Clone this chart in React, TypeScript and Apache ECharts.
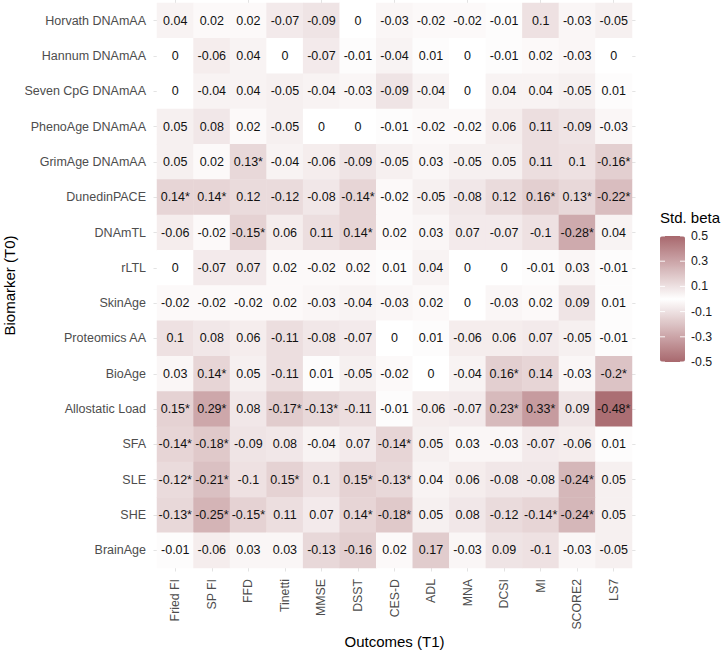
import React, { useEffect, useRef } from "react";
import * as echarts from "echarts";

const outcomes = ["Fried FI", "SP FI", "FFD", "Tinetti", "MMSE", "DSST", "CES-D", "ADL", "MNA", "DCSI", "MI", "SCORE2", "LS7"];
const biomarkers = [
  "Horvath DNAmAA", "Hannum DNAmAA", "Seven CpG DNAmAA", "PhenoAge DNAmAA", "GrimAge DNAmAA",
  "DunedinPACE", "DNAmTL", "rLTL", "SkinAge", "Proteomics AA", "BioAge", "Allostatic Load",
  "SFA", "SLE", "SHE", "BrainAge",
];

// Std. beta per biomarker (row); columns follow `outcomes`
const betaHorvath = [0.04, 0.02, 0.02, -0.07, -0.09, 0, -0.03, -0.02, -0.02, -0.01, 0.1, -0.03, -0.05];
const betaHannum = [0, -0.06, 0.04, 0, -0.07, -0.01, -0.04, 0.01, 0, -0.01, 0.02, -0.03, 0];
const betaSevenCpG = [0, -0.04, 0.04, -0.05, -0.04, -0.03, -0.09, -0.04, 0, 0.04, 0.04, -0.05, 0.01];
const betaPhenoAge = [0.05, 0.08, 0.02, -0.05, 0, 0, -0.01, -0.02, -0.02, 0.06, 0.11, -0.09, -0.03];
const betaGrimAge = [0.05, 0.02, 0.13, -0.04, -0.06, -0.09, -0.05, 0.03, -0.05, 0.05, 0.11, 0.1, -0.16];
const betaDunedin = [0.14, 0.14, 0.12, -0.12, -0.08, -0.14, -0.02, -0.05, -0.08, 0.12, 0.16, 0.13, -0.22];
const betaDNAmTL = [-0.06, -0.02, -0.15, 0.06, 0.11, 0.14, 0.02, 0.03, 0.07, -0.07, -0.1, -0.28, 0.04];
const betaRLTL = [0, -0.07, 0.07, 0.02, -0.02, 0.02, 0.01, 0.04, 0, 0, -0.01, 0.03, -0.01];
const betaSkinAge = [-0.02, -0.02, -0.02, 0.02, -0.03, -0.04, -0.03, 0.02, 0, -0.03, 0.02, 0.09, 0.01];
const betaProteomics = [0.1, 0.08, 0.06, -0.11, -0.08, -0.07, 0, 0.01, -0.06, 0.06, 0.07, -0.05, -0.01];
const betaBioAge = [0.03, 0.14, 0.05, -0.11, 0.01, -0.05, -0.02, 0, -0.04, 0.16, 0.14, -0.03, -0.2];
const betaAllostatic = [0.15, 0.29, 0.08, -0.17, -0.13, -0.11, -0.01, -0.06, -0.07, 0.23, 0.33, 0.09, -0.48];
const betaSFA = [-0.14, -0.18, -0.09, 0.08, -0.04, 0.07, -0.14, 0.05, 0.03, -0.03, -0.07, -0.06, 0.01];
const betaSLE = [-0.12, -0.21, -0.1, 0.15, 0.1, 0.15, -0.13, 0.04, 0.06, -0.08, -0.08, -0.24, 0.05];
const betaSHE = [-0.13, -0.25, -0.15, 0.11, 0.07, 0.14, -0.18, 0.05, 0.08, -0.12, -0.14, -0.24, 0.05];
const betaBrainAge = [-0.01, -0.06, 0.03, 0.03, -0.13, -0.16, 0.02, 0.17, -0.03, 0.09, -0.1, -0.03, -0.05];

// Significance flags (1 = marked with *)
const sigHorvath = [0, 0, 0, 0, 0, 0, 0, 0, 0, 0, 0, 0, 0];
const sigHannum = [0, 0, 0, 0, 0, 0, 0, 0, 0, 0, 0, 0, 0];
const sigSevenCpG = [0, 0, 0, 0, 0, 0, 0, 0, 0, 0, 0, 0, 0];
const sigPhenoAge = [0, 0, 0, 0, 0, 0, 0, 0, 0, 0, 0, 0, 0];
const sigGrimAge = [0, 0, 1, 0, 0, 0, 0, 0, 0, 0, 0, 0, 1];
const sigDunedin = [1, 1, 0, 0, 0, 1, 0, 0, 0, 0, 1, 1, 1];
const sigDNAmTL = [0, 0, 1, 0, 0, 1, 0, 0, 0, 0, 0, 1, 0];
const sigRLTL = [0, 0, 0, 0, 0, 0, 0, 0, 0, 0, 0, 0, 0];
const sigSkinAge = [0, 0, 0, 0, 0, 0, 0, 0, 0, 0, 0, 0, 0];
const sigProteomics = [0, 0, 0, 0, 0, 0, 0, 0, 0, 0, 0, 0, 0];
const sigBioAge = [0, 1, 0, 0, 0, 0, 0, 0, 0, 1, 0, 0, 1];
const sigAllostatic = [1, 1, 0, 1, 1, 0, 0, 0, 0, 1, 1, 0, 1];
const sigSFA = [1, 1, 0, 0, 0, 0, 1, 0, 0, 0, 0, 0, 0];
const sigSLE = [1, 1, 0, 1, 0, 1, 1, 0, 0, 0, 0, 1, 0];
const sigSHE = [1, 1, 1, 0, 0, 1, 1, 0, 0, 0, 1, 1, 0];
const sigBrainAge = [0, 0, 0, 0, 0, 0, 0, 0, 0, 0, 0, 0, 0];

const betaRows = [
  betaHorvath, betaHannum, betaSevenCpG, betaPhenoAge, betaGrimAge, betaDunedin, betaDNAmTL, betaRLTL,
  betaSkinAge, betaProteomics, betaBioAge, betaAllostatic, betaSFA, betaSLE, betaSHE, betaBrainAge,
];
const sigRows = [
  sigHorvath, sigHannum, sigSevenCpG, sigPhenoAge, sigGrimAge, sigDunedin, sigDNAmTL, sigRLTL,
  sigSkinAge, sigProteomics, sigBioAge, sigAllostatic, sigSFA, sigSLE, sigSHE, sigBrainAge,
];

const legendBreaks = [0.5, 0.3, 0.1, -0.1, -0.3, -0.5];
const scaleMin = -0.5;
const scaleMax = 0.5;

const FONT = "Liberation Sans";
const END_COLOR = "#a8686d";

export default function App() {
  const ref = useRef<HTMLDivElement>(null);

  useEffect(() => {
    if (!ref.current) return;
    const chart = echarts.init(ref.current, undefined, { renderer: "svg" });

    const data: any[] = [];
    betaRows.forEach((row, r) => {
      row.forEach((v, c) => {
        const txt = String(v) + (sigRows[r][c] ? "*" : "");
        data.push({ value: [c, r, v], label: { formatter: txt } });
      });
    });

    const barLeft = 660;
    const barTop = 236;
    const barW = 25;
    const barH = 126;
    const yOf = (v: number) => barTop + ((scaleMax - v) / (scaleMax - scaleMin)) * barH;

    const graphics: any[] = [
      {
        type: "text",
        left: barLeft,
        top: 210,
        style: { text: "Std. beta", font: `15px ${FONT}`, fill: "#000" },
      },
    ];
    legendBreaks.forEach((b) => {
      const y = yOf(b);
      graphics.push({
        type: "text",
        x: barLeft + barW + 6,
        y,
        style: {
          text: String(b),
          font: `12.3px ${FONT}`,
          fill: "#1a1a1a",
          textVerticalAlign: "middle",
          textAlign: "left",
        },
        z: 10,
      });
      graphics.push({
        type: "line",
        shape: { x1: barLeft, y1: y, x2: barLeft + 5, y2: y },
        style: { stroke: "rgba(255,255,255,0.9)", lineWidth: 1 },
        z: 10,
      });
      graphics.push({
        type: "line",
        shape: { x1: barLeft + barW - 5, y1: y, x2: barLeft + barW, y2: y },
        style: { stroke: "rgba(255,255,255,0.9)", lineWidth: 1 },
        z: 10,
      });
    });

    const tickStyle = { show: true, length: 3.5, alignWithLabel: true, lineStyle: { color: "#e3e3e3", width: 1 } };

    chart.setOption({
      animation: false,
      backgroundColor: "#fff",
      textStyle: { fontFamily: FONT },
      grid: { left: 157, top: 3, width: 475, height: 565, containLabel: false, outerBoundsMode: "none" },
      xAxis: [
        {
          type: "category",
          data: outcomes,
          position: "bottom",
          axisLine: { show: false },
          axisTick: tickStyle,
          splitLine: { show: false },
          axisLabel: { rotate: 90, margin: 11, color: "#4d4d4d", fontSize: 12.3, fontFamily: FONT, interval: 0 },
          name: "Outcomes (T1)",
          nameLocation: "middle",
          nameGap: 66,
          nameMoveOverlap: false,
          nameTextStyle: { fontSize: 15, color: "#000", fontFamily: FONT },
        },
        {
          type: "category",
          data: outcomes,
          position: "top",
          axisLine: { show: false },
          axisTick: tickStyle,
          axisLabel: { show: false },
        },
      ],
      yAxis: [
        {
          type: "category",
          data: biomarkers,
          inverse: true,
          position: "left",
          axisLine: { show: false },
          axisTick: tickStyle,
          splitLine: { show: false },
          axisLabel: { margin: 11, color: "#4d4d4d", fontSize: 12.5, fontFamily: FONT, interval: 0 },
          name: "Biomarker (T0)",
          nameLocation: "middle",
          nameGap: 140,
          nameRotate: 90,
          nameMoveOverlap: false,
          nameTextStyle: { fontSize: 15, color: "#000", fontFamily: FONT },
        },
        {
          type: "category",
          data: biomarkers,
          inverse: true,
          position: "right",
          axisLine: { show: false },
          axisTick: tickStyle,
          axisLabel: { show: false },
        },
      ],
      visualMap: {
        type: "continuous",
        min: scaleMin,
        max: scaleMax,
        orient: "vertical",
        left: barLeft,
        top: barTop,
        itemWidth: barW,
        itemHeight: barH,
        padding: 0,
        calculable: false,
        hoverLink: false,
        showLabel: false,
        inRange: { color: [END_COLOR, "#ffffff", END_COLOR] },
        seriesIndex: 0,
      },
      graphic: graphics,
      series: [
        {
          type: "heatmap",
          xAxisIndex: 0,
          yAxisIndex: 0,
          data,
          label: { show: true, color: "#111", fontSize: 12.5, fontFamily: FONT },
          itemStyle: { borderWidth: 0 },
          emphasis: { disabled: true },
        },
      ],
    });

    return () => chart.dispose();
  }, []);

  return (
    <div
      ref={ref}
      style={{ position: "fixed", left: 0, top: 0, width: 725, height: 652, background: "#fff" }}
    />
  );
}
